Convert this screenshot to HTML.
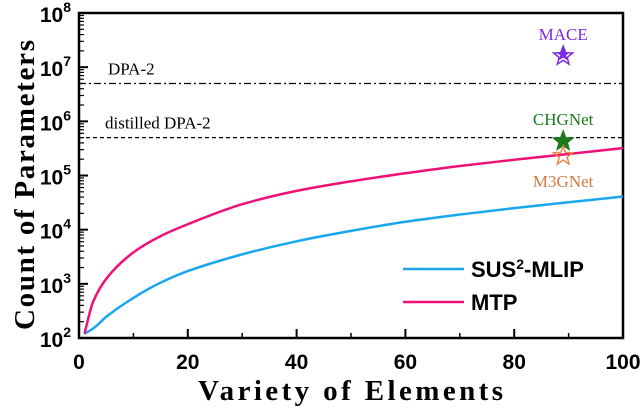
<!DOCTYPE html>
<html><head><meta charset="utf-8"><style>
body{margin:0;background:#fff}
svg{display:block}
.tk{font-family:"Liberation Sans",sans-serif;font-weight:bold;font-size:21px;fill:#000}
.ti{font-family:"Liberation Serif",serif;font-weight:bold;font-size:29px;fill:#000}
.an{font-family:"Liberation Serif",serif;font-size:17px}
</style></head><body>
<svg id="chart" width="640" height="410" xmlns="http://www.w3.org/2000/svg"></svg>
<script>
const xs = [1,2.6,5.3,10,15,20,30,40,50,60,70,80,90,100];
const susValues = [120,150,260,550,1050,1720,3500,6100,9500,14000,19000,25000,32000,41000];
const mtpValues = [120,470,1350,3800,7600,12600,29500,52000,78000,110000,150000,195000,250000,320000];
const xTicks = [0,20,40,60,80,100];
const yExps = [2,3,4,5,6,7,8];
const refNames = ["DPA-2","distilled DPA-2"];
const refValues = [5e6,5e5];
const starNames = ["MACE","CHGNet","M3GNet"];
const starX = [89,89,89];
const starValues = [1.6e7,4.3e5,2.3e5];

const L=79,R=623,T=13,B=338;
const X=v=>L+(v/100)*(R-L);
const Y=v=>B-(Math.log10(v)-2)/6*(B-T);
const svg=document.getElementById('chart');
const NS="http://www.w3.org/2000/svg";
function mk(t,a,p){const e=document.createElementNS(NS,t);for(const k in a)e.setAttribute(k,a[k]);(p||svg).appendChild(e);return e;}

const frame=mk('rect',{x:L,y:T,width:R-L,height:B-T,fill:'none',stroke:'#000','stroke-width':2.5});



xTicks.forEach(v=>{
  const t=mk('line',{x1:X(v),x2:X(v),y1:B,y2:B-9,stroke:'#000','stroke-width':2});
  
  
  const lb=mk('text',{x:X(v),y:B+31,'text-anchor':'middle',class:'tk'});lb.textContent=v;
  
  
  if(v<100){const m=mk('line',{x1:X(v+10),x2:X(v+10),y1:B,y2:B-5,stroke:'#000','stroke-width':1.5});
  
  }
});
yExps.forEach(e=>{
  const y=Y(Math.pow(10,e));
  const t=mk('line',{x1:L,x2:L+9,y1:y,y2:y,stroke:'#000','stroke-width':2});
  
  
  const lb=mk('text',{x:L-8,y:y+9,'text-anchor':'end',class:'tk'});
  lb.innerHTML='10<tspan dy="-10" font-size="14">'+e+'</tspan>';
  
  
  if(e<8)for(let k=2;k<10;k++){const yy=Y(k*Math.pow(10,e));
    const m=mk('line',{x1:L,x2:L+5,y1:yy,y2:yy,stroke:'#000','stroke-width':1.2});
    
    }
});
const xt=mk('text',{x:198,y:400,class:'ti',textLength:305,lengthAdjust:'spacing'});xt.textContent='Variety of Elements';


const yt=mk('text',{x:0,y:0,class:'ti',textLength:290,lengthAdjust:'spacing',transform:'translate(34,330) rotate(-90)'});yt.textContent='Count of  Parameters';



refValues.forEach((v,i)=>{
  const ln=mk('line',{x1:L,x2:R,y1:Y(v),y2:Y(v),stroke:'#000','stroke-width':1.2,'stroke-dasharray':i==0?'7,3,2,3':'4,3'});
  
  
  const tx=mk('text',{x:i==0?108:105,y:Y(v)-9,class:'an',fill:'#000'});tx.textContent=refNames[i];
  
  
});

function path(vals,color,name){
  const px=xs.map(X), py=vals.map(Y), n=px.length;
  const d=[],m=new Array(n);
  for(let i=0;i<n-1;i++)d.push((py[i+1]-py[i])/(px[i+1]-px[i]));
  m[0]=d[0];m[n-1]=d[n-2];
  for(let i=1;i<n-1;i++){m[i]=(d[i-1]*d[i]<=0)?0:(2/(1/d[i-1]+1/d[i]));}
  let s='M'+px[0]+','+py[0];
  for(let i=0;i<n-1;i++){const h=px[i+1]-px[i];
    s+=' C'+(px[i]+h/3)+','+(py[i]+m[i]*h/3)+' '+(px[i+1]-h/3)+','+(py[i+1]-m[i+1]*h/3)+' '+px[i+1]+','+py[i+1];}
  const p=mk('path',{d:s,fill:'none',stroke:color,'stroke-width':2.5});
  
  
}
path(susValues,'#1aa6ef','sus2-mlip-line');
path(mtpValues,'#ee1177','mtp-line');

function starPts(cx,cy,r){let a=[];for(let i=0;i<10;i++){const rr=i%2?r*0.42:r,ang=-Math.PI/2+i*Math.PI/5;a.push((cx+rr*Math.cos(ang)).toFixed(1)+','+(cy+rr*Math.sin(ang)).toFixed(1));}return a.join(' ');}
const starStyle=[{f:'#7b2be0',s:'#7b2be0',c:'#7b2be0'},{f:'#1a7a1a',s:'#1a7a1a',c:'#1a7a1a'},{f:'none',s:'#e8884a',c:'#d07a40'}];
starNames.forEach((n,i)=>{
  const cx=X(starX[i]),cy=Y(starValues[i]),st=starStyle[i];
  const p=mk('polygon',{points:starPts(cx,cy,10),fill:i==0?'#fff':st.f,stroke:st.s,'stroke-width':1.5});
  
  
  if(i==0){const q=mk('polygon',{points:starPts(cx,cy-1.5,7),fill:'#7b2be0'});
    
    }
  const ty=i==2?cy+31:cy-16;
  const t=mk('text',{x:cx,y:ty,'text-anchor':'middle',class:'an',fill:st.c});t.textContent=n;
  
  
});

const leg=[['SUS','#1aa6ef',269],['MTP','#ee1177',302]];
leg.forEach((l,i)=>{
  const ln=mk('line',{x1:403,x2:464,y1:l[2],y2:l[2],stroke:l[1],'stroke-width':2.5});
  
  
  const t=mk('text',{x:471,y:l[2]+8,class:'tk'});
  t.setAttribute('style','font-size:22px');
  t.innerHTML=i==0?'SUS<tspan dy="-8" font-size="14">2</tspan><tspan dy="8">-MLIP</tspan>':'MTP';
  
  
});
</script>
</body></html>
